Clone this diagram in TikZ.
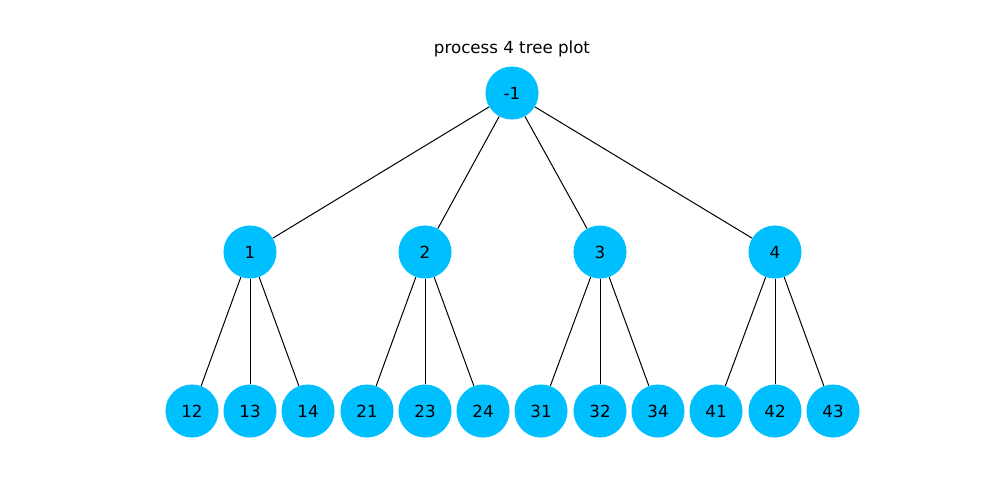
\documentclass[tikz,border=0pt]{standalone}
\usepackage{fontspec}
\setmainfont{DejaVu Sans}
\definecolor{nodeblue}{HTML}{00BFFF}
\begin{document}
\begin{tikzpicture}[x=0.72pt,y=-0.72pt,
  tnode/.style={circle,fill=nodeblue,minimum size=38.2pt,inner sep=0pt,font=\fontsize{12}{14}\selectfont},
  edge/.style={draw=black,line width=0.72pt}]
\useasboundingbox (0,0) rectangle (1000,500);
\node[font=\fontsize{12}{14}\selectfont] (title) at (512,48.5) {process 4 tree plot};
\node[tnode] (r) at (512,93) {-1};
\foreach \n/\x in {1/250,2/425,3/600,4/775}{
  \node[tnode] (n\n) at (\x,252) {\n};
}
\foreach \n/\x in {12/192,13/250,14/308,21/367,23/425,24/483,31/541,32/600,34/658,41/716,42/775,43/833}{
  \node[tnode] (n\n) at (\x,411) {\n};
}
\foreach \a in {1,2,3,4}{ \draw[edge] (r) -- (n\a); }
\draw[edge] (n1) -- (n12); \draw[edge] (n1) -- (n13); \draw[edge] (n1) -- (n14);
\draw[edge] (n2) -- (n21); \draw[edge] (n2) -- (n23); \draw[edge] (n2) -- (n24);
\draw[edge] (n3) -- (n31); \draw[edge] (n3) -- (n32); \draw[edge] (n3) -- (n34);
\draw[edge] (n4) -- (n41); \draw[edge] (n4) -- (n42); \draw[edge] (n4) -- (n43);
\end{tikzpicture}
\end{document}
